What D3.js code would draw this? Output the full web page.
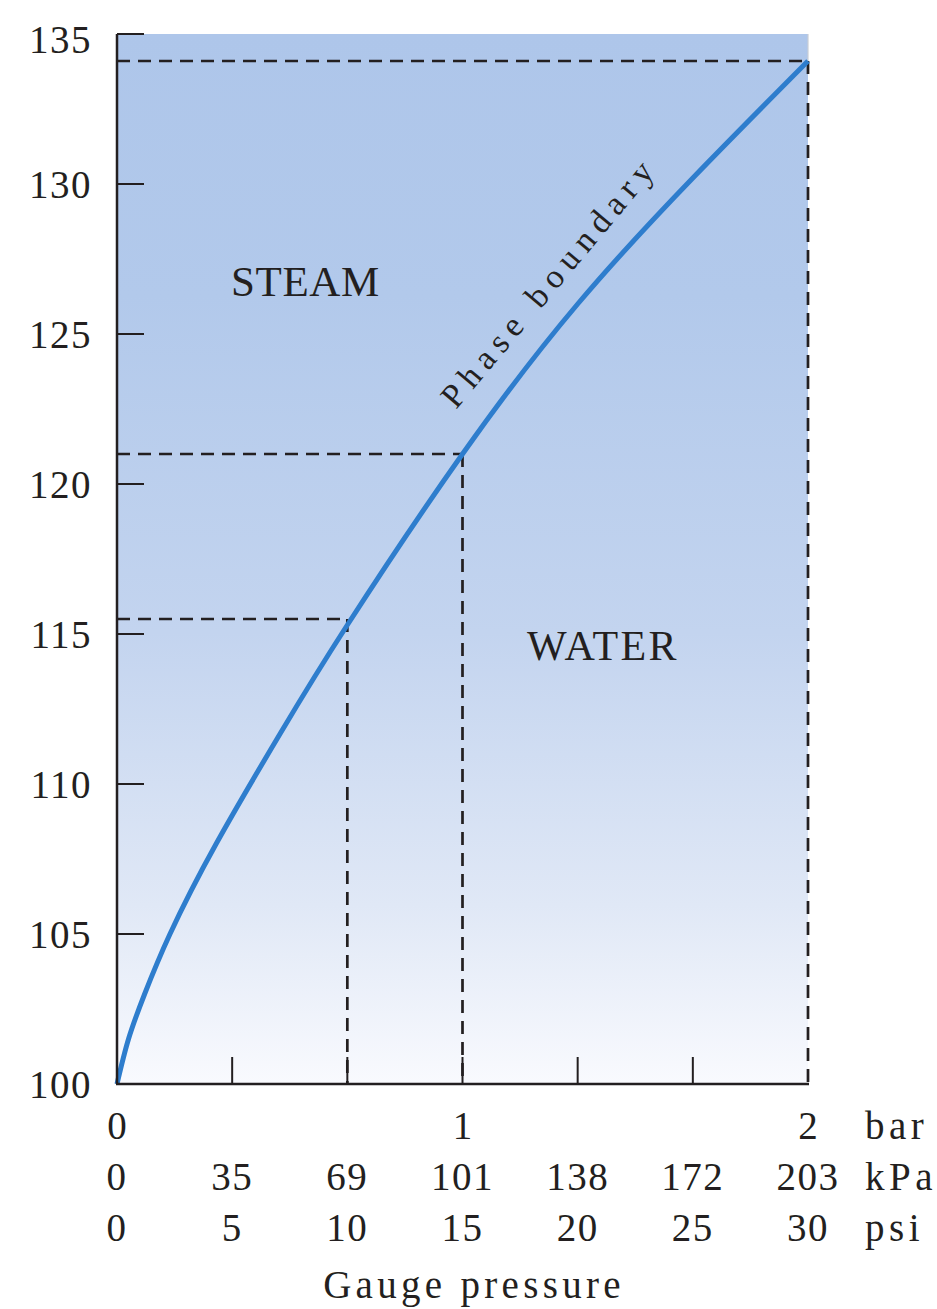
<!DOCTYPE html>
<html>
<head>
<meta charset="utf-8">
<script src="https://cdn.jsdelivr.net/npm/d3@7"></script>
<style>
  html, body { margin: 0; padding: 0; background: #ffffff; }
  svg { display: block; }
  text { font-family: "Liberation Serif", "Times New Roman", serif; fill: #231f20; }
</style>
</head>
<body>
<script>
// ---- data ----
const psiValues  = [0, 0.5, 1.2, 2.3, 4.3, 7.1, 10, 15, 20, 25, 30];
const tempValues = [100, 101.5, 103.0, 105.0, 108.0, 111.7, 115.3, 121.0, 126.0, 130.2, 134.1];
const yTicks = [100, 105, 110, 115, 120, 125, 130, 135];
const psiTicks = [0, 5, 10, 15, 20, 25, 30];
const kPaLabels = ["0", "35", "69", "101", "138", "172", "203"];
const barTicks = [0, 1, 2];
const barPsi = [0, 15, 30];          // bar labels positioned on psi scale
const guidePsi = [10, 15, 30];
const guideTemp = [115.5, 121.0, 134.1];
const unitLabels = ["bar", "kPa", "psi"];

// ---- layout ----
const W = 937, H = 1309;
const svg = d3.select("body").append("svg").attr("width", W).attr("height", H);

const x = d3.scaleLinear().domain([0, 30]).range([117, 808]);
const y = d3.scaleLinear().domain([100, 135]).range([1084, 34]);

// gradient background
const defs = svg.append("defs");
const grad = defs.append("linearGradient").attr("id", "bg")
  .attr("x1", 0).attr("y1", 0).attr("x2", 0).attr("y2", 1);
[[0, "#aec6ea"], [0.25, "#b2c9eb"], [0.57, "#c3d4ef"], [0.83, "#e0e8f6"], [1, "#f9fafe"]]
  .forEach(([o, c]) => grad.append("stop").attr("offset", o).attr("stop-color", c));

svg.append("rect")
  .attr("x", x(0)).attr("y", y(135))
  .attr("width", x(30) - x(0)).attr("height", y(100) - y(135))
  .attr("fill", "url(#bg)");

// faint right edge
svg.append("line")
  .attr("x1", x(30)).attr("x2", x(30)).attr("y1", y(135)).attr("y2", y(134.1))
  .attr("stroke", "#c9ced6").attr("stroke-width", 1.2);

const ink = "#231f20";

// dashed guides
const guides = svg.append("g").attr("fill", "none").attr("stroke", ink)
  .attr("stroke-width", 2.7).attr("stroke-dasharray", "13,8");
guidePsi.forEach((p, i) => {
  const t = guideTemp[i];
  guides.append("line").attr("x1", x(0)).attr("x2", x(p)).attr("y1", y(t)).attr("y2", y(t));
  guides.append("line").attr("x1", x(p)).attr("x2", x(p)).attr("y1", y(t)).attr("y2", y(100));
});

// phase boundary curve
const pts = psiValues.map((p, i) => [p, tempValues[i]]);
svg.append("path")
  .datum(pts)
  .attr("fill", "none")
  .attr("stroke", "#2e7dcd")
  .attr("stroke-width", 5)
  .attr("d", d3.line().x(d => x(d[0])).y(d => y(d[1])).curve(d3.curveNatural));

// axes lines
svg.append("line").attr("x1", x(0)).attr("x2", x(0)).attr("y1", y(135)).attr("y2", y(100))
  .attr("stroke", ink).attr("stroke-width", 2.5);
svg.append("line").attr("x1", x(0) - 1).attr("x2", x(30) + 1).attr("y1", y(100)).attr("y2", y(100))
  .attr("stroke", ink).attr("stroke-width", 2.5);

// y ticks (inward)
yTicks.filter(v => v > 100).forEach(v => {
  svg.append("line").attr("x1", x(0)).attr("x2", x(0) + 27).attr("y1", y(v)).attr("y2", y(v))
    .attr("stroke", ink).attr("stroke-width", 2);
});
// x ticks (upward)
psiTicks.filter(v => v > 0 && v < 30).forEach(v => {
  svg.append("line").attr("x1", x(v)).attr("x2", x(v)).attr("y1", y(100)).attr("y2", y(100) - 27)
    .attr("stroke", ink).attr("stroke-width", 2);
});

// y tick labels
const fs = 39;
svg.append("g").selectAll("text").data(yTicks).join("text")
  .attr("x", 92).attr("y", d => Math.max(y(d) + 14, 53))
  .attr("text-anchor", "end").attr("font-size", fs).attr("letter-spacing", 1.5)
  .text(d => d);

// x tick label rows
const rowY = [1139, 1190, 1241];
svg.append("g").selectAll("text").data(barTicks).join("text")
  .attr("x", (d, i) => x(barPsi[i])).attr("y", rowY[0])
  .attr("text-anchor", "middle").attr("font-size", fs).text(d => d);
svg.append("g").selectAll("text").data(kPaLabels).join("text")
  .attr("x", (d, i) => x(psiTicks[i])).attr("y", rowY[1])
  .attr("text-anchor", "middle").attr("font-size", fs).attr("letter-spacing", 1.5).text(d => d);
svg.append("g").selectAll("text").data(psiTicks).join("text")
  .attr("x", d => x(d)).attr("y", rowY[2])
  .attr("text-anchor", "middle").attr("font-size", fs).attr("letter-spacing", 1.5).text(d => d);

// unit labels
svg.append("g").selectAll("text").data(unitLabels).join("text")
  .attr("x", 865).attr("y", (d, i) => rowY[i])
  .attr("font-size", fs).attr("letter-spacing", 4.5).text(d => d);

// axis title
svg.append("text").attr("x", 474).attr("y", 1298).attr("text-anchor", "middle")
  .attr("font-size", fs).attr("letter-spacing", 4.3).text("Gauge pressure");

// region labels
svg.append("text").attr("x", 231).attr("y", 296).attr("font-size", 43).attr("letter-spacing", 0.6)
  .text("STEAM");
svg.append("text").attr("x", 527).attr("y", 660).attr("font-size", 42).attr("letter-spacing", 2.4)
  .text("WATER");

// curve label
svg.append("text")
  .attr("transform", "translate(456,410) rotate(-50)")
  .attr("font-size", 34).attr("letter-spacing", 7.2)
  .text("Phase boundary");
</script>
</body>
</html>
